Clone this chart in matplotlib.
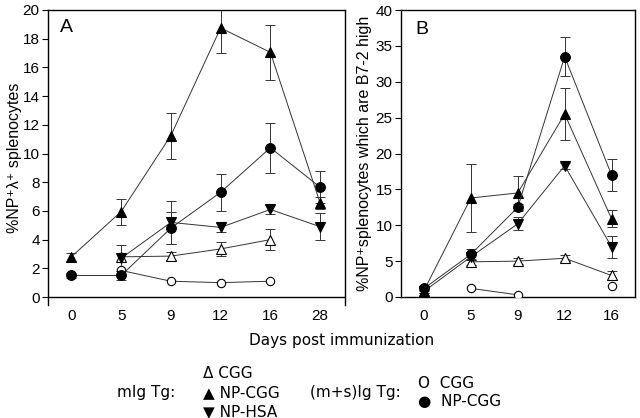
import numpy as np
import matplotlib
matplotlib.use("Agg")
import matplotlib.pyplot as plt

nan = np.nan
# ---- data ----
days_A = ["0", "5", "9", "12", "16", "28"]
days_B = ["0", "5", "9", "12", "16"]

# Panel A: %NP+lambda+ splenocytes
A_cgg_mIg = [nan, 2.8, 2.85, 3.35, 4.0, nan]
A_cgg_mIg_err = [0, 0, 0.3, 0.5, 0.75, 0]
A_npcgg_mIg = [2.8, 5.95, 11.25, 18.75, 17.05, 6.55]
A_npcgg_mIg_err = [0.3, 0.9, 1.6, 1.75, 1.9, 0.4]
A_nphsa_mIg = [nan, 2.7, 5.2, 4.85, 6.1, 4.9]
A_nphsa_mIg_err = [0, 0.9, 1.5, 0.3, 0.3, 0.95]
A_cgg_ms = [nan, 1.85, 1.1, 1.0, 1.1, nan]
A_npcgg_ms = [1.5, 1.5, 4.8, 7.3, 10.4, 7.65]
A_npcgg_ms_err = [0.2, 0.3, 1.1, 1.3, 1.75, 1.1]

# Panel B: %NP+ splenocytes which are B7-2 high
B_npcgg_ms = [1.2, 5.95, 12.5, 33.5, 17.0]
B_npcgg_ms_err = [0.3, 0.8, 0.5, 2.7, 2.2]
B_npcgg_mIg = [0.9, 13.8, 14.5, 25.5, 10.9]
B_npcgg_mIg_err = [0.3, 4.8, 2.4, 3.6, 1.2]
B_nphsa_mIg = [0.8, 5.6, 10.2, 18.3, 7.0]
B_nphsa_mIg_err = [0.2, 0.5, 0.9, 0.4, 1.5]
B_cgg_mIg = [nan, 4.9, 5.0, 5.4, 3.0]
B_cgg_mIg_err = [0, 0.4, 0.4, 0.4, 0.6]
B_cgg_ms = [nan, 1.2, 0.3, nan, 1.5]

plt.rcParams['font.family'] = ['DejaVu Sans']
fig = plt.figure(figsize=(6.4, 4.18), dpi=100)

W, H = 640.0, 418.0
def ax_rect(l, t, r, b):
    return [l / W, 1 - b / H, (r - l) / W, (b - t) / H]

narrow = ['Liberation Sans Narrow', 'Liberation Sans', 'DejaVu Sans']
tickfont = dict(family=narrow, size=11)

line_kw = dict(color='#333333', lw=0.7)

def series(ax, x, y, err, marker, filled, ms=7, zorder=3):
    y = np.array(y, dtype=float)
    mfc = 'black' if filled else 'white'
    if err is not None:
        e = np.array(err, dtype=float)
        mask = (~np.isnan(y)) & (e > 0)
        ax.errorbar(np.array(x)[mask], y[mask], yerr=e[mask], fmt='none',
                    ecolor='#333333', elinewidth=0.7, capsize=3.5, capthick=0.7, zorder=2)
    ax.plot(x, y, marker=marker, markersize=ms, markerfacecolor=mfc,
            markeredgecolor='black', markeredgewidth=0.8, zorder=zorder, **line_kw)

# ---- Panel A ----
axA = fig.add_axes(ax_rect(48, 10, 345, 305))
xA = np.arange(len(days_A))
series(axA, xA, A_cgg_ms, None, 'o', False, ms=6)
series(axA, xA, A_cgg_mIg, A_cgg_mIg_err, '^', False)
series(axA, xA, A_nphsa_mIg, A_nphsa_mIg_err, 'v', True)
series(axA, xA, A_npcgg_ms, A_npcgg_ms_err, 'o', True)
series(axA, xA, A_npcgg_mIg, A_npcgg_mIg_err, '^', True)
axA.set_xlim(-0.47, 5.5)
axA.set_ylim(-0.557, 20)
axA.axhline(0, color='black', lw=1.0, zorder=1)
axA.spines['bottom'].set_visible(False)
axA.set_xticks(xA)
axA.set_xticklabels(days_A, **tickfont)
axA.tick_params(axis='x', length=0, pad=3)
axA.set_yticks(np.arange(0, 21, 2))
axA.set_yticklabels([str(v) for v in range(0, 21, 2)], **tickfont)
axA.tick_params(axis='y', direction='out', length=4, width=0.8, pad=2)
axA.set_ylabel('%NP\u207a\u03bb\u207a splenocytes', fontsize=11.5, family=narrow)
axA.yaxis.set_label_coords(-0.088, 0.5)
axA.text(0.04, 0.97, 'A', transform=axA.transAxes, fontsize=14, va='top', ha='left',
         family=['Liberation Sans', 'DejaVu Sans'])

# ---- Panel B ----
axB = fig.add_axes(ax_rect(401, 10, 635, 297))
xB = np.arange(len(days_B))
series(axB, xB, B_cgg_ms, None, 'o', False, ms=6)
series(axB, xB, B_cgg_mIg, B_cgg_mIg_err, '^', False)
series(axB, xB, B_nphsa_mIg, B_nphsa_mIg_err, 'v', True)
series(axB, xB, B_npcgg_mIg, B_npcgg_mIg_err, '^', True)
series(axB, xB, B_npcgg_ms, B_npcgg_ms_err, 'o', True)
axB.set_xlim(-0.49, 4.5)
axB.set_ylim(0, 40)
axB.set_xticks(xB)
axB.set_xticklabels(days_B, **tickfont)
axB.tick_params(axis='x', length=0, pad=9)
axB.set_yticks(np.arange(0, 41, 5))
axB.set_yticklabels([str(v) for v in range(0, 41, 5)], **tickfont)
axB.tick_params(axis='y', direction='out', length=4, width=0.8, pad=2)
axB.set_ylabel('%NP\u207asplenocytes which are B7-2 high', fontsize=11.5, family=narrow)
axB.yaxis.set_label_coords(-0.124, 0.5)
axB.text(0.06, 0.96, 'B', transform=axB.transAxes, fontsize=14, va='top', ha='left',
         family=['Liberation Sans', 'DejaVu Sans'])

for ax in (axA, axB):
    for s in ax.spines.values():
        s.set_linewidth(1.0)

# ---- x label and legend ----
def ftext(x, y, s, **kw):
    fig.text(x / W, 1 - y / H, s, va='center', fontsize=11, **kw)

ftext(342, 341, 'Days post immunization', ha='center')
ftext(117, 392, 'mIg Tg:', ha='left')
ftext(203, 373, 'Δ CGG', ha='left')
ftext(203, 393, '▲ NP-CGG', ha='left')
ftext(203, 412, '▼ NP-HSA', ha='left')
ftext(310, 392, '(m+s)Ig Tg:', ha='left')
ftext(418, 383, 'O  CGG', ha='left')
ftext(418, 402, '●  NP-CGG', ha='left')

fig.savefig('out.png', dpi=100)
